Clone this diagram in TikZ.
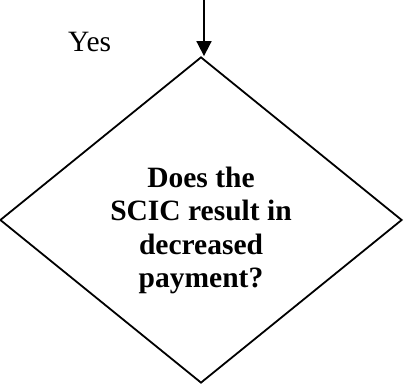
\documentclass[tikz,border=0pt]{standalone}
\usepackage{fontspec}
\setmainfont{Liberation Serif}
\usetikzlibrary{shapes.geometric,arrows.meta}
\tikzset{
  decbox/.style={diamond, draw, line width=1.8pt, inner sep=0pt, minimum width=402pt, minimum height=326pt},
  qtext/.style={align=center, inner sep=0pt, font=\fontsize{29.5}{33.5}\selectfont\bfseries},
  lbl/.style={inner sep=0pt, font=\fontsize{29.5}{33}\selectfont},
  flow/.style={line width=1.8pt, -{Triangle[length=15pt,width=15pt]}}
}
\begin{document}
\begin{tikzpicture}[x=1pt,y=1pt]
\useasboundingbox (0,0) rectangle (404,387);
\node[decbox] (dec) at (201,167) {};
\node[qtext] (q) at (201,156.7) {Does the\\SCIC result in\\decreased\\payment?};
\node[lbl, anchor=base west] (yes) at (68,335) {Yes};
\coordinate (start) at (204,387);
\draw[flow] (start) -- (start |- dec.north);
\end{tikzpicture}
\end{document}
